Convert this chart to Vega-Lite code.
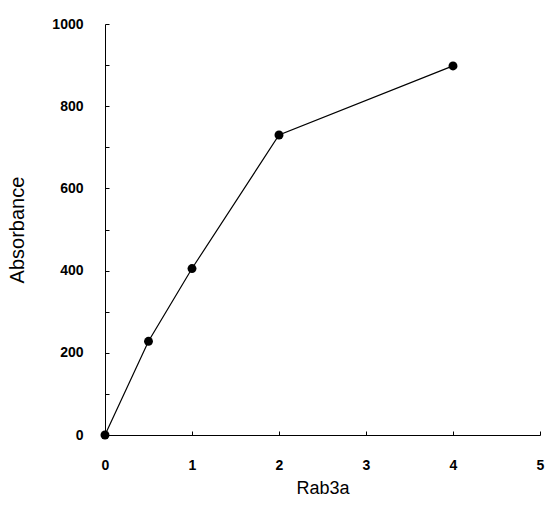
{
  "$schema": "https://vega.github.io/schema/vega-lite/v6.json",
  "width": 435,
  "height": 411,
  "autosize": "none",
  "padding": {"left": 105, "top": 24, "right": 7, "bottom": 80},
  "background": "white",
  "config": {
    "view": {"stroke": null},
    "axis": {
      "grid": false,
      "domainColor": "black",
      "tickColor": "black",
      "labelColor": "black",
      "titleColor": "black",
      "labelFont": "Liberation Sans",
      "titleFont": "Liberation Sans",
      "labelFontSize": 14,
      "labelFontWeight": "bold",
      "titleFontSize": 18,
      "titleFontWeight": "normal",
      "tickSize": -4,
      "domainWidth": 1,
      "labelFlush": false
    }
  },
  "data": {
    "values": [
      {"x": 0, "y": 0},
      {"x": 0.5, "y": 228},
      {"x": 1, "y": 405},
      {"x": 2, "y": 730},
      {"x": 4, "y": 898}
    ]
  },
  "encoding": {
    "x": {
      "field": "x",
      "type": "quantitative",
      "scale": {"domain": [0, 5], "nice": false, "zero": true},
      "axis": {
        "title": "Rab3a",
        "values": [0, 0.5, 1, 1.5, 2, 2.5, 3, 3.5, 4, 4.5, 5],
        "format": "d",
        "labelExpr": "datum.value % 1 === 0 ? format(datum.value, 'd') : ''",
        "labelPadding": 27,
        "titlePadding": 7
      }
    },
    "y": {
      "field": "y",
      "type": "quantitative",
      "scale": {"domain": [0, 1000], "nice": false},
      "axis": {
        "title": "Absorbance",
        "titleFontSize": 20,
        "values": [0, 100, 200, 300, 400, 500, 600, 700, 800, 900, 1000],
        "labelExpr": "datum.value % 200 === 0 ? format(datum.value, 'd') : ''",
        "format": "d",
        "labelPadding": 26,
        "titlePadding": 24
      }
    }
  },
  "layer": [
    {"mark": {"type": "line", "color": "black", "strokeWidth": 1.2}},
    {"mark": {"type": "point", "filled": true, "color": "black", "opacity": 1, "size": 80}}
  ]
}
